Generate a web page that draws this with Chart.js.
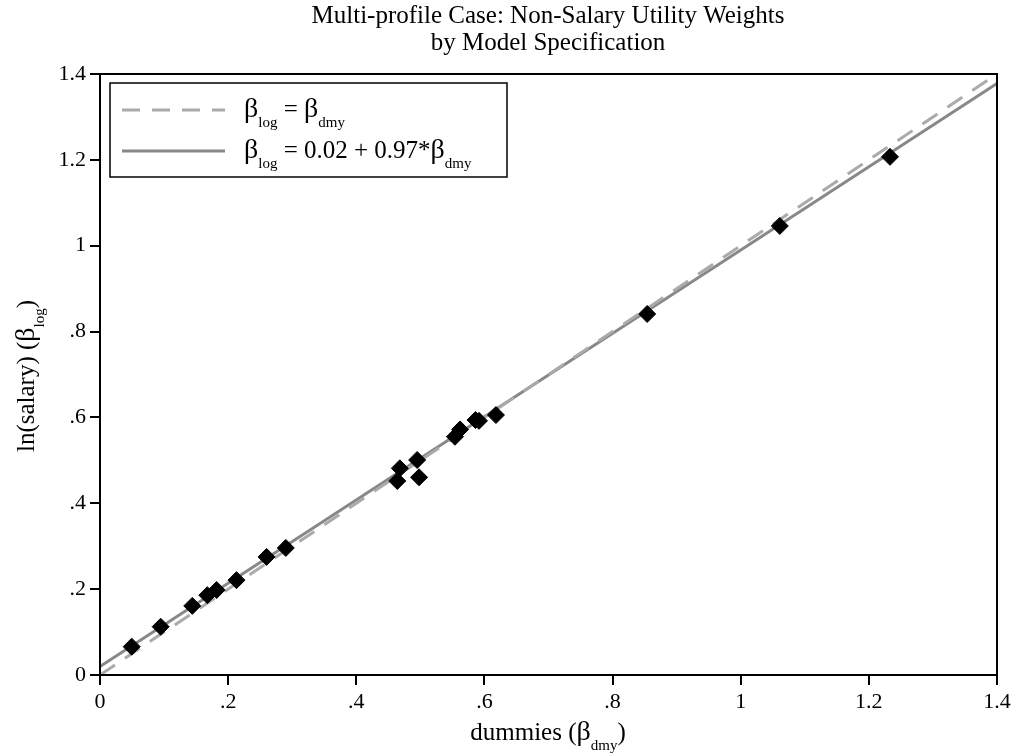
<!DOCTYPE html>
<html>
<head>
<meta charset="utf-8">
<script src="https://cdn.jsdelivr.net/npm/chart.js@4.4.0/dist/chart.umd.min.js"></script>
<style>
body { margin: 0; background: #fff; }
#wrap { width: 1019px; height: 755px; position: relative; }
</style>
</head>
<body>
<div id="wrap"><canvas id="utilChart"></canvas></div>
<script>
// weights: dummies (x) vs ln(salary) (y)
var dummiesX = [0.0495, 0.0947, 0.144, 0.1675, 0.182, 0.213, 0.260, 0.290, 0.464, 0.468, 0.495, 0.498, 0.554, 0.562, 0.586, 0.5915, 0.618, 0.854, 1.061, 1.233];
var logY = [0.066, 0.1125, 0.161, 0.186, 0.198, 0.221, 0.275, 0.296, 0.452, 0.4815, 0.5008, 0.4605, 0.555, 0.572, 0.594, 0.592, 0.6056, 0.841, 1.046, 1.207];

var lineX = [0, 1.4];
var equalY = [0, 1.4];
var fitIntercept = 0.02,
    fitSlope = 0.97;

var tickValues = [0, 0.2, 0.4, 0.6, 0.8, 1, 1.2, 1.4];
var tickLabels = ['0', '.2', '.4', '.6', '.8', '1', '1.2', '1.4'];

var serif = '"Liberation Serif", "Times New Roman", serif';

var pointData = dummiesX.map(function(x, i) { return {x: x, y: logY[i]}; });
var equalData = lineX.map(function(x, i) { return {x: x, y: equalY[i]}; });
var fitData = lineX.map(function(x) { return {x: x, y: fitIntercept + fitSlope * x}; });

// text with subscripts, parts = [{t:'..', sub:true}, {t:'β', big:true}, ...]
function partSize(p, size) {
	if (p.sub) return Math.round(size * 0.6);
	if (p.big) return Math.round(size * 1.12);
	return size;
}
function richWidth(ctx, parts, size) {
	var w = 0;
	parts.forEach(function(p) {
		ctx.font = partSize(p, size) + 'px ' + serif;
		w += ctx.measureText(p.t).width;
	});
	return w;
}
function drawRich(ctx, parts, x, y, size, center) {
	var cx = center ? x - richWidth(ctx, parts, size) / 2 : x;
	ctx.textAlign = 'left';
	ctx.textBaseline = 'alphabetic';
	parts.forEach(function(p) {
		ctx.font = partSize(p, size) + 'px ' + serif;
		ctx.fillText(p.t, cx, p.sub ? y + size * 0.4 : y);
		cx += ctx.measureText(p.t).width;
	});
}

var decorations = {
	id: 'decorations',
	afterDraw: function(chart) {
		var ctx = chart.ctx, ca = chart.chartArea;
		ctx.save();
		ctx.fillStyle = '#000';
		ctx.strokeStyle = '#000';

		// frame
		ctx.lineWidth = 2;
		ctx.strokeRect(ca.left, ca.top, ca.right - ca.left, ca.bottom - ca.top);

		// title
		ctx.font = '25px ' + serif;
		ctx.textAlign = 'center';
		ctx.fillText('Multi-profile Case: Non-Salary Utility Weights', 548, 23);
		ctx.fillText('by Model Specification', 548, 50);

		// axis titles
		drawRich(ctx, [{t: 'dummies ('}, {t: 'β', big: true}, {t: 'dmy', sub: true}, {t: ')'}], 548, 740, 25, true);
		ctx.save();
		ctx.translate(34, 376);
		ctx.rotate(-Math.PI / 2);
		drawRich(ctx, [{t: 'ln(salary) ('}, {t: 'β', big: true}, {t: 'log', sub: true}, {t: ')'}], 0, 0, 25, true);
		ctx.restore();

		// legend box
		var lx = ca.left + 10, ly = ca.top + 9;
		ctx.fillStyle = '#fff';
		ctx.fillRect(lx, ly, 397, 94);
		ctx.lineWidth = 1.5;
		ctx.strokeRect(lx, ly, 397, 94);

		ctx.lineWidth = 3;
		ctx.strokeStyle = '#aaaaaa';
		ctx.setLineDash([18, 12]);
		ctx.beginPath();
		ctx.moveTo(lx + 12, ly + 27);
		ctx.lineTo(lx + 115, ly + 27);
		ctx.stroke();
		ctx.setLineDash([]);
		ctx.strokeStyle = '#888888';
		ctx.beginPath();
		ctx.moveTo(lx + 12, ly + 68);
		ctx.lineTo(lx + 115, ly + 68);
		ctx.stroke();

		ctx.fillStyle = '#000';
		drawRich(ctx, [{t: 'β', big: true}, {t: 'log', sub: true}, {t: ' = '}, {t: 'β', big: true}, {t: 'dmy', sub: true}], lx + 134, ly + 34, 25, false);
		drawRich(ctx, [{t: 'β', big: true}, {t: 'log', sub: true}, {t: ' = 0.02 + 0.97*'}, {t: 'β', big: true}, {t: 'dmy', sub: true}], lx + 134, ly + 75, 25, false);
		ctx.restore();
	}
};

function axisOpts(size) {
	return {
		type: 'linear',
		min: 0,
		max: 1.4,
		afterBuildTicks: function(s) {
			s.ticks = tickValues.map(function(v) { return {value: v}; });
		},
		ticks: {
			callback: function(v, i) { return tickLabels[i]; },
			color: '#000',
			font: {family: serif, size: 22},
			padding: 4,
			maxRotation: 0,
			autoSkip: false
		},
		grid: {drawOnChartArea: false, tickLength: 10, color: '#000', lineWidth: 2},
		border: {color: '#000', width: 2},
		afterFit: function(s) {
			if (s.axis === 'x') s.height = size; else s.width = size;
		}
	};
}

var ctx = document.getElementById('utilChart').getContext('2d');
var chart = new Chart(ctx, {
	type: 'scatter',
	data: {
		datasets: [{
			label: 'weights',
			data: pointData,
			pointStyle: 'rectRot',
			pointRadius: 8.5,
			backgroundColor: '#000',
			borderColor: '#000',
			borderWidth: 1,
			order: 0
		}, {
			label: 'equal',
			data: equalData,
			showLine: true,
			borderColor: '#aaaaaa',
			borderWidth: 3,
			borderDash: [18, 12],
			pointRadius: 0,
			order: 1
		}, {
			label: 'fit',
			data: fitData,
			showLine: true,
			borderColor: '#888888',
			borderWidth: 3,
			pointRadius: 0,
			order: 2
		}]
	},
	options: {
		responsive: true,
		maintainAspectRatio: false,
		animation: false,
		layout: {padding: {top: 74, right: 22, left: 0, bottom: 0}},
		plugins: {legend: {display: false}, tooltip: {enabled: false}, title: {display: false}},
		scales: {
			x: axisOpts(80),
			y: axisOpts(100)
		}
	},
	plugins: [decorations]
});
</script>
</body>
</html>
